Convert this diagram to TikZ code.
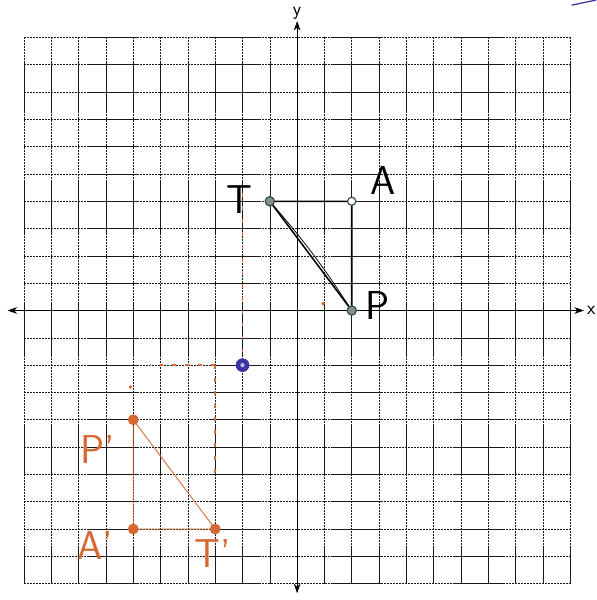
\documentclass[tikz,border=0pt]{standalone}
\usepackage{tikz}
\usetikzlibrary{positioning, arrows.meta}
\definecolor{penorange}{RGB}{214, 104, 52}
\definecolor{pengreen}{RGB}{45, 75, 60}
\definecolor{penblue}{RGB}{60, 50, 165}

\begin{document}
\begin{tikzpicture}[every node/.style={font=\sffamily},
    gridline/.style={black!90, line width=0.6pt, dash pattern=on 2.5pt off 0.6pt},
    axisline/.style={black, line width=0.7pt, {Stealth[length=10pt, width=7pt]}-{Stealth[length=10pt, width=7pt]}},
    axislabel/.style={font=\fontsize{20}{20}\selectfont\sffamily, inner sep=0pt},
    handlabel/.style={font=\fontsize{42}{42}\selectfont\sffamily, inner sep=0pt},
    traceline/.style={penorange, line width=1.8pt, dash pattern=on 4pt off 9.5pt}]
  % page frame
  \useasboundingbox (-10.88,-10.60) rectangle (10.95,11.37);
  % grid and axes
  \draw[gridline] (-10,-10) grid (10,10);
  \coordinate (xl) at (-10.6,0);
  \coordinate (xr) at (10.5,0);
  \coordinate (yb) at (0,-10.35);
  \coordinate (yt) at (0,10.6);
  \draw[axisline] (xl) -- (xr) node[right=3pt, axislabel] (xlab) {x};
  \draw[axisline] (yb) -- (yt) node[above=1pt, axislabel] (ylab) {y};
  % original triangle
  \coordinate (T) at (-1,4);
  \coordinate (A) at (2,4);
  \coordinate (P) at (2,0);
  \draw[black, line width=1.6pt] (T) -- (A) -- (P) -- cycle;
  \draw[black, line width=0.8pt] (T) to[bend left=4] (P);
  \draw[pengreen, line width=1.2pt, fill=pengreen!60] (T) circle (0.17);
  \draw[pengreen, line width=1.2pt, fill=white] (A) circle (0.15);
  \draw[pengreen, line width=1.2pt, fill=pengreen!60] (P) circle (0.17);
  \node[handlabel] (labT) at (-2.1,4.05) {T};
  \node[handlabel] (labA) at (3.15,4.75) {A};
  \node[handlabel] (labP) at (2.95,0.2) {P};
  % counting marks to the centre
  \coordinate (tr1) at (-2,4.3);
  \coordinate (tr2) at (-5.4,-2);
  \coordinate (tr3) at (-3,-6.0);
  \coordinate (C) at (-2,-2);
  \coordinate (Ck) at (-3,-2);
  \draw[traceline] (tr1) -- (C);
  \draw[traceline] (Ck) -- (tr2);
  \draw[traceline] (Ck) -- (tr3);
  \fill[penorange] (0.95,0.25) circle (0.07);
  \fill[penorange] (-6.1,-2.8) circle (0.07);
  % centre of rotation
  \fill[penblue] (C) circle (0.25);
  \fill[penblue!35] (C) circle (0.08);
  % rotated triangle
  \coordinate (Pi) at (-6,-4);
  \coordinate (Ai) at (-6,-8);
  \coordinate (Ti) at (-3,-8);
  \draw[penorange, line width=0.9pt] (Pi) -- (Ai) -- (Ti) -- cycle;
  \foreach \v in {Pi, Ai, Ti}
    \fill[penorange] (\v) circle (0.2);
  \node[handlabel, text=penorange] (labPi) at (-7.3,-5.1) {P'};
  \node[handlabel, text=penorange] (labAi) at (-7.4,-8.6) {A'};
  \node[handlabel, text=penorange] (labTi) at (-3.1,-8.9) {T'};
  % stray pen stroke
  \coordinate (bs1) at (10.05,11.18);
  \coordinate (bs2) at (10.95,11.37);
  \draw[penblue, line width=1.3pt] (bs1) -- (bs2);
\end{tikzpicture}
\end{document}
